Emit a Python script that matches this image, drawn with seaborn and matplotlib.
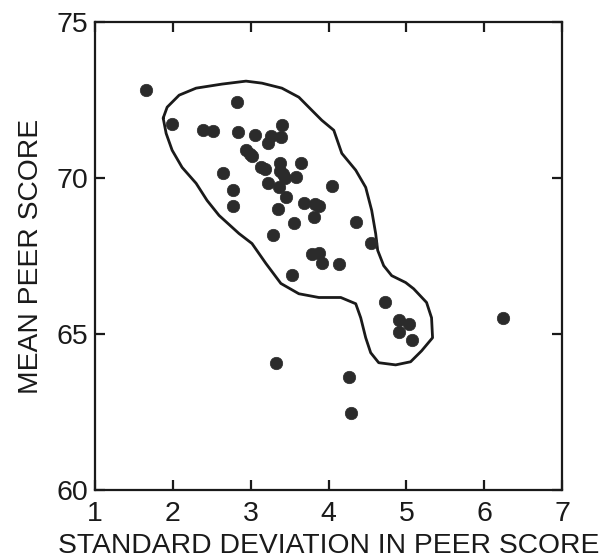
import matplotlib
matplotlib.use("Agg")
import matplotlib.pyplot as plt
import seaborn as sns
import pandas as pd

# Scatter data: standard deviation vs mean peer score
sd_score = [1.66, 2.83, 1.99, 2.39, 2.52, 2.84, 3.06, 3.26, 3.22, 3.40, 3.39,
            2.94, 2.99, 3.02, 3.13, 3.18, 3.38, 3.38, 3.41, 3.44, 3.65, 3.58,
            2.65, 2.77, 3.22, 3.36, 3.45, 4.05, 2.77, 3.35, 3.68, 3.83, 3.88,
            3.82, 3.56, 4.35, 3.29, 4.55, 3.79, 3.88, 3.92, 4.14, 3.53, 4.72,
            4.90, 5.03, 4.91, 5.07, 6.24, 4.26, 4.29, 3.33]
mean_score = [72.81, 72.44, 71.73, 71.55, 71.51, 71.48, 71.38, 71.36, 71.13, 71.71, 71.33,
              70.91, 70.78, 70.71, 70.35, 70.28, 70.48, 70.21, 70.14, 70.00, 70.47, 70.04,
              70.17, 69.63, 69.84, 69.71, 69.38, 69.73, 69.11, 69.02, 69.19, 69.16, 69.09,
              68.75, 68.57, 68.58, 68.16, 67.92, 67.56, 67.59, 67.28, 67.25, 66.90, 66.02,
              65.44, 65.32, 65.05, 64.82, 65.51, 63.62, 62.47, 64.08]

# Hand-drawn enclosing outline (traced)
outline_x = [1.876, 1.927, 2.081, 2.299, 2.632, 2.940, 3.145, 3.401, 3.619, 3.786,
             3.914, 4.068, 4.171, 4.350, 4.478, 4.555, 4.606, 4.632, 4.709, 4.812,
             4.991, 5.094, 5.260, 5.324, 5.337, 5.196, 5.055, 4.863, 4.645, 4.542,
             4.478, 4.414, 4.350, 4.158, 3.876, 3.619, 3.388, 3.196, 3.017, 2.850,
             2.594, 2.440, 2.299, 2.119, 1.991, 1.914, 1.876]
outline_y = [71.92, 72.27, 72.655, 72.88, 73.01, 73.105, 73.04, 72.88, 72.59, 72.17,
             71.85, 71.53, 70.79, 70.25, 69.70, 68.96, 68.22, 67.68, 67.19, 66.87,
             66.65, 66.45, 66.01, 65.52, 64.88, 64.46, 64.11, 64.01, 64.08, 64.40,
             64.88, 65.52, 65.97, 66.17, 66.17, 66.29, 66.62, 67.26, 67.90, 68.22,
             68.80, 69.28, 69.83, 70.34, 70.89, 71.43, 71.92]

x_ticks = [1, 2, 3, 4, 5, 6, 7]
y_ticks = [60, 65, 70, 75]
x_label = "STANDARD DEVIATION IN PEER SCORE"
y_label = "MEAN PEER SCORE"

sns.set_style("ticks")
plt.rcParams["font.family"] = ["Liberation Sans", "DejaVu Sans"]

fig = plt.figure(figsize=(6.05, 5.58), dpi=100)
ax = fig.add_axes([95 / 605, 1 - 490 / 558, (562 - 95) / 605, (490 - 22) / 558])

df = pd.DataFrame({"sd": sd_score, "mean": mean_score})
sns.scatterplot(data=df, x="sd", y="mean", ax=ax, s=80, color="#2b2b2b",
                edgecolor="#2b2b2b", linewidth=0.5, zorder=3)
ax.plot(outline_x, outline_y, color="#1a1a1a", lw=2.0, solid_joinstyle="round",
        solid_capstyle="round", zorder=2)

ax.set_xlim(1, 7)
ax.set_ylim(60, 75)
ax.set_xticks(x_ticks)
ax.set_yticks(y_ticks)
ax.tick_params(direction="in", length=7, width=1.6, top=True, right=True,
               labelsize=20.5, colors="#1a1a1a")
ax.tick_params(axis="x", pad=8)
ax.tick_params(axis="y", pad=5)
for s in ax.spines.values():
    s.set_linewidth(1.6)
    s.set_color("#1a1a1a")
ax.set_xlabel(x_label, fontsize=20.3, color="#1a1a1a", labelpad=4)
ax.set_ylabel(y_label, fontsize=20.3, color="#1a1a1a", labelpad=9)

fig.savefig("out.png", dpi=100)
